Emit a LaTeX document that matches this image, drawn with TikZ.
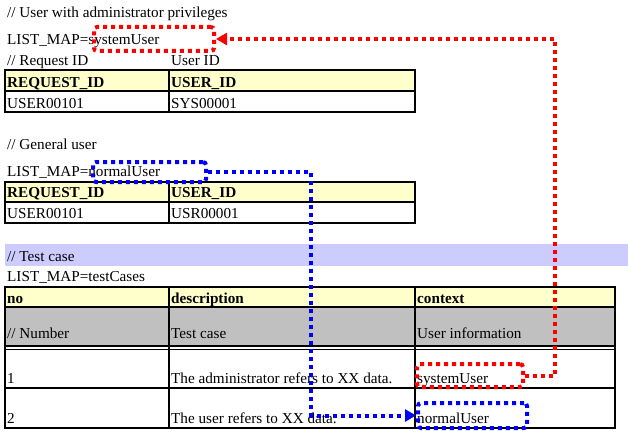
\documentclass[tikz,border=0pt]{standalone}
\usepackage{fontspec}
\setmainfont{Liberation Serif}
\usetikzlibrary{arrows.meta}
\definecolor{hdr}{HTML}{FFFFCC}
\definecolor{grayrow}{HTML}{C0C0C0}
\definecolor{band}{HTML}{CCCCFF}
\definecolor{myred}{HTML}{FF0000}
\definecolor{myblue}{HTML}{0000FF}
\begin{document}
\begin{tikzpicture}[x=1pt,y=-1pt,
 txt/.style={anchor=base west, inner sep=0pt, font=\fontsize{15.2}{18}\selectfont},
 btxt/.style={anchor=base west, inner sep=0pt, font=\fontsize{15.2}{18}\selectfont\bfseries},
 grid/.style={draw=black, line width=1.3pt},
 dotbox/.style={line width=4pt, dash pattern=on 4pt off 4pt, rounded corners=3pt, inner sep=0pt},
 redbox/.style={dotbox, draw=myred},
 bluebox/.style={dotbox, draw=myblue},
 redconn/.style={draw=myred, line width=4pt, dash pattern=on 4pt off 4pt, -{Triangle[length=11pt,width=12pt]}},
 blueconn/.style={draw=myblue, line width=4pt, dash pattern=on 4pt off 4pt, -{Triangle[length=11pt,width=12pt]}}
]
\useasboundingbox (0,0) rectangle (628,436);

% ---------- section 1 ----------
\node[txt] (c1) at (7,18) {// User with administrator privileges};
\node[txt] (lm1) at (7,45) {LIST\_MAP=systemUser};
\node[txt] (rq1) at (7,66) {// Request ID};
\node[txt] (ui1) at (171,66) {User ID};
\fill[hdr] (5,70) rectangle (415,91);
\draw[grid] (5,70) rectangle (415,112);
\draw[grid] (5,91) -- (415,91);
\draw[grid] (169,70) -- (169,112);
\node[btxt] (h11) at (7,87) {REQUEST\_ID};
\node[btxt] (h12) at (171,87) {USER\_ID};
\node[txt] (r11) at (7,108) {USER00101};
\node[txt] (r12) at (171,108) {SYS00001};

% ---------- section 2 ----------
\node[txt] (c2) at (7,149) {// General user};
\node[txt] (lm2) at (7,176) {LIST\_MAP=normalUser};
\fill[hdr] (5,182) rectangle (415,202);
\draw[grid] (5,182) rectangle (415,223);
\draw[grid] (5,202) -- (415,202);
\draw[grid] (169,182) -- (169,223);
\node[btxt] (h21) at (7,197) {REQUEST\_ID};
\node[btxt] (h22) at (171,197) {USER\_ID};
\node[txt] (r21) at (7,218) {USER00101};
\node[txt] (r22) at (171,218) {USR00001};

% ---------- section 3 ----------
\fill[band] (5,244) rectangle (628,266);
\node[txt] (c3) at (7,261) {// Test case};
\node[txt] (lm3) at (7,281) {LIST\_MAP=testCases};
\fill[hdr] (5,287) rectangle (615,307);
\fill[grayrow] (5,307) rectangle (615,346);
\draw[grid] (5,287) rectangle (615,428);
\draw[grid] (5,307) -- (615,307);
\draw[grid] (5,346) -- (615,346);
\draw[grid] (5,349.5) -- (615,349.5);
\draw[grid] (5,388) -- (615,388);
\draw[grid] (169,287) -- (169,428);
\draw[grid] (415,287) -- (415,428);
\node[btxt] (h31) at (7,303) {no};
\node[btxt] (h32) at (171,303) {description};
\node[btxt] (h33) at (417,303) {context};
\node[txt] (g1) at (7,338) {// Number};
\node[txt] (g2) at (171,338) {Test case};
\node[txt] (g3) at (417,338) {User information};
\node[txt] (a1) at (7,383) {1};
\node[txt] (a2) at (171,383) {The administrator refers to XX data.};
\node[txt] (a3) at (417,383) {systemUser};
\node[txt] (b1) at (7,423) {2};
\node[txt] (b2) at (171,423) {The user refers to XX data.};
\node[txt] (b3) at (417,423) {normalUser};

% ---------- highlight boxes ----------
\node[redbox, minimum width=120pt, minimum height=24pt] (sysTop) at (154,39) {};
\node[redbox, minimum width=106pt, minimum height=23pt] (sysBot) at (470,375.5) {};
\node[bluebox, minimum width=113pt, minimum height=20pt] (normTop) at (149.5,172) {};
\node[bluebox, minimum width=109pt, minimum height=25pt] (normBot) at (472.5,415.5) {};

% ---------- connectors ----------
\coordinate (rc) at (555,0);
\coordinate (bc) at (311,0);
\draw[redconn] (sysBot.east) -- (sysBot.east -| rc) -- (rc |- sysTop.east) -- (sysTop.east);
\draw[blueconn] (normTop.east) -- (normTop.east -| bc) -- (bc |- normBot.west) -- (normBot.west);
\end{tikzpicture}
\end{document}
